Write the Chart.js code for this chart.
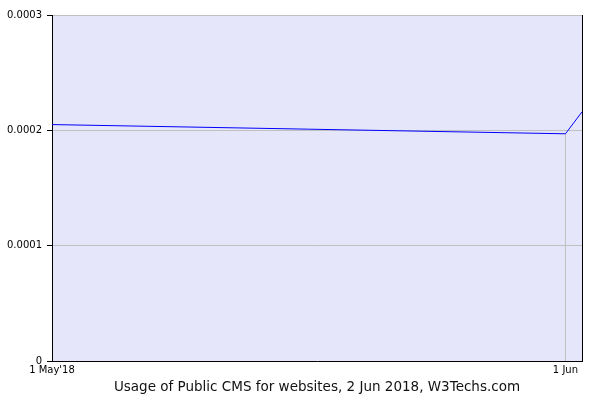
<!DOCTYPE html>
<html>
<head>
<meta charset="utf-8">
<script src="https://cdn.jsdelivr.net/npm/chart.js@4/dist/chart.umd.min.js"></script>
<style>
  html, body { margin: 0; padding: 0; background: #ffffff; }
  #wrap { width: 600px; height: 400px; }
</style>
</head>
<body>
<div id="wrap"><canvas id="cmsChart" width="600" height="400"></canvas></div>
<script>
// days counted from 1 May 2018
const dayOffsets = [0, 31, 32];
const dateLabels = ["1 May 2018", "1 Jun 2018", "2 Jun 2018"];
const usageValues = [0.000205, 0.000197, 0.000216];

const xTickDays = [0, 31];
const xTickLabels = ["1 May'18", "1 Jun"];
const yTickValues = [0, 0.0001, 0.0002, 0.0003];
const yTickLabels = ["0", "0.0001", "0.0002", "0.0003"];
const chartTitle = "Usage of Public CMS for websites, 2 Jun 2018, W3Techs.com";

const colors = {
    plot: "#e6e6fa",
    line: "#0000ff",
    grid: "#c0c0c0",
    axis: "#000000",
    text: "#000000",
    title: "#111111"
};

const plotFrame = {
    id: "plotFrame",
    beforeDraw(chart) {
        const { ctx, chartArea: a } = chart;
        ctx.save();
        ctx.fillStyle = colors.plot;
        ctx.fillRect(a.left, a.top, a.right - a.left, a.bottom - a.top);
        ctx.restore();
    },
    afterDraw(chart) {
        const { ctx, chartArea: a } = chart;
        ctx.save();
        ctx.strokeStyle = colors.axis;
        ctx.lineWidth = 1;
        ctx.beginPath();
        ctx.moveTo(Math.round(a.right) + 0.5, a.top);
        ctx.lineTo(Math.round(a.right) + 0.5, a.bottom);
        ctx.stroke();
        // title sits centred under the plot area, not the canvas
        ctx.fillStyle = colors.title;
        ctx.font = "13.5px 'DejaVu Sans'";
        ctx.textAlign = "center";
        ctx.textBaseline = "middle";
        ctx.fillText(chartTitle, (a.left + a.right) / 2, 387);
        ctx.restore();
    }
};

const points = dayOffsets.map((d, i) => ({ x: d, y: usageValues[i], label: dateLabels[i] }));
// drop line under the 1 Jun point
const juneIdx = 1;
const dropLine = [
    { x: dayOffsets[juneIdx], y: 0 },
    { x: dayOffsets[juneIdx], y: usageValues[juneIdx] }
];

new Chart(document.getElementById("cmsChart"), {
    type: "line",
    data: {
        datasets: [
            {
                label: "drop",
                data: dropLine,
                borderColor: colors.grid,
                borderWidth: 1,
                pointRadius: 0,
                order: 2
            },
            {
                label: "Public CMS",
                data: points,
                borderColor: colors.line,
                borderWidth: 1,
                pointRadius: 0,
                tension: 0,
                order: 1
            }
        ]
    },
    options: {
        responsive: false,
        animation: false,
        layout: { padding: { left: 0, right: 18, top: 15, bottom: 25 } },
        plugins: {
            legend: { display: false },
            tooltip: { enabled: false },
            title: { display: false }
        },
        scales: {
            x: {
                type: "linear",
                min: 0,
                max: 32,
                afterBuildTicks(scale) {
                    scale.ticks = xTickDays.map((v) => ({ value: v }));
                },
                afterFit(scale) { scale.height = 14; },
                grid: { display: false, drawTicks: false },
                border: { display: true, color: colors.axis, width: 1 },
                ticks: {
                    color: colors.text,
                    padding: 3,
                    maxRotation: 0,
                    autoSkip: false,
                    font: { family: "DejaVu Sans", size: 10 },
                    callback: (v) => xTickLabels[xTickDays.indexOf(v)]
                }
            },
            y: {
                min: 0,
                max: 0.0003,
                afterBuildTicks(scale) {
                    scale.ticks = yTickValues.map((v) => ({ value: v }));
                },
                afterFit(scale) { scale.width = 52; },
                grid: {
                    color: colors.grid,
                    tickColor: colors.axis,
                    tickLength: 5
                },
                border: { display: true, color: colors.axis, width: 1 },
                ticks: {
                    color: colors.text,
                    padding: 5,
                    font: { family: "DejaVu Sans", size: 10 },
                    callback: (v) => yTickLabels[yTickValues.indexOf(v)]
                }
            }
        }
    },
    plugins: [plotFrame]
});
</script>
</body>
</html>
